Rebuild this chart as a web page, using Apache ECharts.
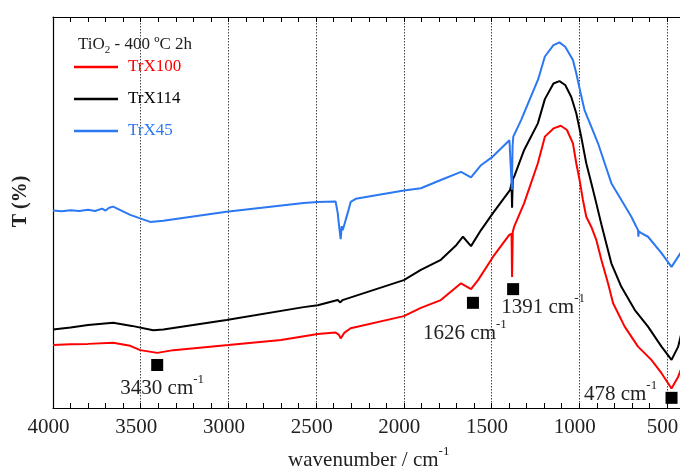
<!DOCTYPE html>
<html>
<head>
<meta charset="utf-8">
<script src="https://cdn.jsdelivr.net/npm/echarts@6/dist/echarts.min.js"></script>
<style>
  html, body { margin: 0; padding: 0; background: #fff; }
  #chart { width: 680px; height: 467px; }
</style>
</head>
<body>
<div id="chart"></div>
<script>
// FTIR transmittance spectra of TiO2 calcined at 400 ºC for 2h (arbitrary T units)
const wnTrX100 = [4000, 3900, 3800, 3657, 3560, 3503, 3406, 3314, 3000, 2700, 2491, 2389, 2370, 2360, 2340, 2303, 2000, 1903, 1789, 1674, 1617, 1577, 1491, 1400, 1386, 1383, 1379, 1371, 1314, 1236, 1196, 1147, 1105, 1070, 1036, 1017, 998, 979, 960, 931, 903, 874, 836, 807, 741, 665, 589, 531, 474, 436, 400];
const tTrX100  = [16.1, 16.3, 16.4, 16.7, 15.9, 14.8, 14.1, 14.8, 16.1, 17.4, 18.9, 19.3, 18.7, 17.8, 19.2, 20.4, 23.5, 25.6, 27.6, 31.9, 30.4, 32.7, 38.7, 44.2, 44.6, 33.5, 45.0, 46.4, 52.4, 62.6, 69.4, 71.5, 72.2, 71.1, 67.7, 62.6, 58.3, 53.2, 48.9, 46.3, 43.0, 37.9, 31.9, 26.8, 20.8, 15.7, 12.3, 8.9, 5.0, 8.0, 12.3];

const wnTrX114 = [4000, 3900, 3800, 3657, 3550, 3429, 3371, 3011, 2571, 2491, 2377, 2362, 2350, 2000, 1903, 1789, 1700, 1663, 1617, 1560, 1491, 1394, 1386, 1383, 1379, 1371, 1314, 1236, 1196, 1147, 1113, 1080, 1046, 1017, 989, 960, 931, 903, 874, 846, 817, 760, 684, 608, 531, 474, 436, 400];
const tTrX114  = [20.1, 20.6, 21.2, 21.8, 21.0, 19.9, 20.1, 22.5, 25.8, 26.3, 27.6, 27.0, 27.6, 32.7, 35.3, 37.9, 41.7, 43.8, 41.4, 45.5, 49.9, 55.8, 57.5, 51.2, 58.5, 59.2, 66.0, 72.8, 79.0, 83.0, 83.6, 82.6, 79.6, 75.4, 69.4, 62.6, 57.5, 52.4, 47.0, 42.1, 37.0, 31.0, 25.1, 20.8, 15.7, 12.3, 15.7, 22.5];

const wnTrX45 = [4000, 3950, 3900, 3850, 3800, 3760, 3720, 3700, 3680, 3657, 3560, 3446, 3371, 3011, 2571, 2491, 2389, 2377, 2371, 2360, 2354, 2349, 2343, 2320, 2303, 2274, 2000, 1903, 1789, 1674, 1617, 1560, 1493, 1398, 1388, 1384, 1380, 1376, 1331, 1234, 1196, 1147, 1113, 1080, 1036, 1017, 992, 970, 931, 893, 855, 817, 760, 703, 684, 665, 663, 660, 646, 608, 531, 474, 417, 400];
const tTrX45  = [50.5, 50.3, 50.6, 50.4, 50.7, 50.4, 51.0, 50.5, 51.2, 51.5, 49.4, 47.6, 47.9, 50.2, 52.4, 52.7, 52.8, 49.9, 47.3, 43.2, 46.5, 45.5, 46.3, 49.9, 52.7, 53.5, 55.6, 56.2, 58.3, 60.4, 59.0, 62.1, 64.3, 68.5, 68.8, 55.8, 67.0, 69.4, 73.7, 84.1, 89.9, 92.8, 93.5, 92.4, 89.0, 85.6, 80.5, 76.2, 71.9, 67.7, 62.6, 57.5, 53.2, 48.9, 47.2, 45.5, 43.8, 45.2, 44.7, 43.8, 39.6, 36.1, 40.0, 41.7];

// Band markers and their labels
const bandWn     = [3406, 1606, 1377, 474];
const bandT      = [11.0, 26.9, 30.4, 2.6];
const bandLabels = ['3430', '1626', '1391', '478'];

const seriesNames  = ['TrX100', 'TrX114', 'TrX45'];
const seriesColors = ['#ff0000', '#000000', '#2b78f2'];

const FONT = 'Liberation Serif';
const TEXT = '#222222';
const zip = (xs, ys) => xs.map((x, i) => [x, ys[i]]);

const bandOffsets = [[5, 21], [-8, 28], [30, 16], [-51, -6]];
const bandData = bandWn.map((w, i) => ({
  value: [w, bandT[i]],
  label: {
    show: true,
    position: 'inside',
    offset: bandOffsets[i],
    formatter: '{n|' + bandLabels[i] + ' cm}{s|-1}'
  }
}));

const supRich = {
  n: { fontFamily: FONT, fontSize: 21, color: TEXT, lineHeight: 26, verticalAlign: 'bottom', textBorderWidth: 0 },
  s: { fontFamily: FONT, fontSize: 13, color: TEXT, lineHeight: 14, verticalAlign: 'top', textBorderWidth: 0 }
};

const gridBase = { top: 17, bottom: 59, left: 53, outerBoundsMode: 'none', containLabel: false };

const chart = echarts.init(document.getElementById('chart'), null, { renderer: 'canvas' });

chart.setOption({
  animation: false,
  backgroundColor: '#ffffff',
  title: {
    left: 73, top: 29,
    text: '{a|TiO}{b|2}{a| - 400 ºC 2h}',
    textStyle: {
      fontWeight: 'normal',
      rich: {
        a: { fontFamily: FONT, fontSize: 17, fontWeight: 'normal', color: TEXT, lineHeight: 22, verticalAlign: 'middle' },
        b: { fontFamily: FONT, fontSize: 11, fontWeight: 'normal', color: TEXT, lineHeight: 11, verticalAlign: 'bottom' }
      }
    }
  },
  legend: {
    orient: 'vertical',
    left: 69, top: 52,
    icon: 'rect',
    itemWidth: 44, itemHeight: 2.5, itemGap: 12,
    data: seriesNames.map((n, i) => ({ name: n, textStyle: { color: seriesColors[i] } })),
    textStyle: { fontFamily: FONT, fontSize: 17, lineHeight: 20, padding: [0, 0, 0, 5] }
  },
  grid: [
    Object.assign({ width: 631.5 }, gridBase),
    Object.assign({ right: 13 }, gridBase)
  ],
  xAxis: [
    {
      gridIndex: 0, type: 'value', position: 'bottom', inverse: true,
      min: 400, max: 4000, interval: 100,
      axisLine: { lineStyle: { color: '#000', width: 1.2 } },
      axisTick: { inside: true, length: 5, lineStyle: { color: '#000' } },
      axisLabel: {
        fontFamily: FONT, fontSize: 21, color: TEXT, margin: 9, padding: [0, 9, 0, 0],
        formatter: v => (v % 500 === 0 && v >= 500 ? String(v) : '')
      },
      splitLine: { show: false },
      name: '{n|wavenumber / cm}{s|-1}',
      nameLocation: 'middle', nameGap: 37,
      nameTextStyle: { rich: supRich }
    },
    {
      gridIndex: 0, type: 'value', position: 'top', inverse: true,
      min: 400, max: 4000, interval: 100,
      axisLine: { lineStyle: { color: '#000', width: 1.2 } },
      axisTick: { inside: true, length: 5, lineStyle: { color: '#000' } },
      axisLabel: { show: false },
      splitLine: { show: false }
    },
    {
      // dotted grid at the major wavenumber positions
      gridIndex: 1, type: 'value', inverse: true,
      min: 500, max: 4000, interval: 500,
      axisLine: { show: false }, axisTick: { show: false }, axisLabel: { show: false },
      splitLine: { show: true, lineStyle: { color: '#444', type: [1.5, 1.5], width: 1 } }
    }
  ],
  yAxis: [
    {
      gridIndex: 0, type: 'value', min: 0, max: 100,
      axisLine: { show: true, lineStyle: { color: '#000', width: 1.2 } },
      axisTick: { show: false }, axisLabel: { show: false }, splitLine: { show: false },
      name: 'T (%)', nameLocation: 'middle', nameGap: 22,
      nameTextStyle: { fontFamily: FONT, fontSize: 20, fontWeight: 'bold', color: TEXT, padding: [0, 0, 0, 22] }
    },
    {
      gridIndex: 1, type: 'value', min: 0, max: 100, show: false
    }
  ],
  series: [
    { name: 'TrX100', type: 'line', xAxisIndex: 0, yAxisIndex: 0, data: zip(wnTrX100, tTrX100),
      symbol: 'none', color: seriesColors[0], lineStyle: { width: 2, color: seriesColors[0] }, z: 3 },
    { name: 'TrX114', type: 'line', xAxisIndex: 0, yAxisIndex: 0, data: zip(wnTrX114, tTrX114),
      symbol: 'none', color: seriesColors[1], lineStyle: { width: 2, color: seriesColors[1] }, z: 3 },
    { name: 'TrX45', type: 'line', xAxisIndex: 0, yAxisIndex: 0, data: zip(wnTrX45, tTrX45),
      symbol: 'none', color: seriesColors[2], lineStyle: { width: 2, color: seriesColors[2] }, z: 3 },
    { name: 'bands', type: 'scatter', xAxisIndex: 0, yAxisIndex: 0, data: bandData,
      symbol: 'rect', symbolSize: 12, itemStyle: { color: '#000', opacity: 1 },
      label: { color: TEXT, textBorderWidth: 0, rich: supRich }, z: 4 }
  ]
});
</script>
</body>
</html>
